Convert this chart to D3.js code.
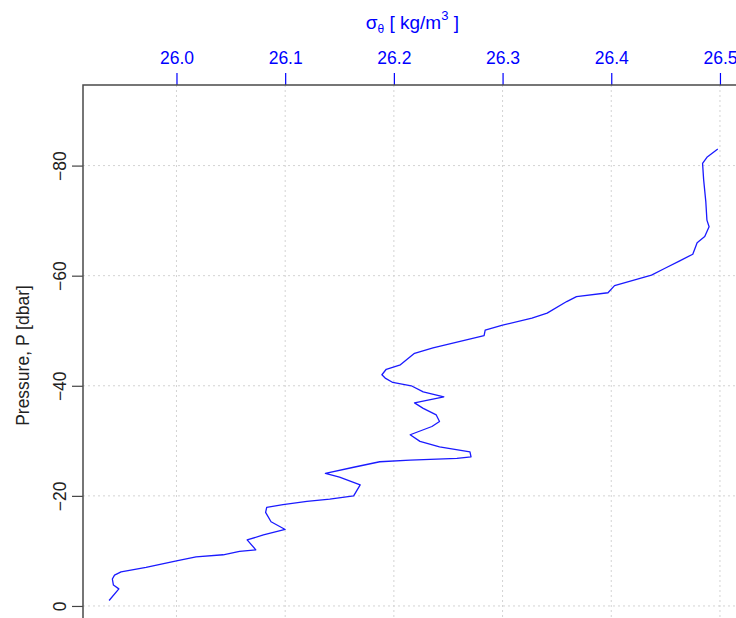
<!DOCTYPE html>
<html>
<head>
<meta charset="utf-8">
<script src="https://cdn.jsdelivr.net/npm/d3@7"></script>
<style>
	body { margin: 0; background: #fff; }
	svg { font-family: "Liberation Sans", Arial, sans-serif; }
</style>
</head>
<body>
<svg id="chart" width="736" height="618"></svg>
<script>
// profile, bottom to top
const pressure = [1.0, 3.1, 3.8, 4.9, 5.6, 6.2, 7.0, 8.2, 8.9, 9.3, 9.9, 10.2, 12.0, 12.9, 13.9, 15.3, 17.0, 17.9, 18.4, 19.0, 19.4, 20.0, 22.0, 23.4, 24.1, 25.2, 26.2, 26.5, 26.8, 27.1, 28.0, 28.9, 29.9, 31.1, 32.6, 33.5, 34.7, 35.9, 36.9, 38.0, 38.9, 40.0, 40.6, 41.4, 42.0, 43.0, 43.8, 45.9, 46.9, 49.1, 50.1, 51.0, 52.3, 53.2, 55.3, 56.2, 56.9, 58.2, 60.1, 61.3, 62.7, 63.9, 66.0, 67.1, 68.9, 70.1, 73.4, 77.4, 80.4, 81.5, 83.0]
const sigmaTheta = [25.938, 25.947, 25.942, 25.941, 25.943, 25.949, 25.972, 26.000, 26.018, 26.043, 26.058, 26.073, 26.065, 26.080, 26.100, 26.087, 26.082, 26.083, 26.098, 26.120, 26.141, 26.163, 26.169, 26.150, 26.137, 26.163, 26.187, 26.215, 26.258, 26.271, 26.270, 26.242, 26.224, 26.215, 26.235, 26.242, 26.239, 26.227, 26.219, 26.246, 26.227, 26.216, 26.199, 26.192, 26.189, 26.193, 26.206, 26.219, 26.236, 26.283, 26.284, 26.300, 26.327, 26.341, 26.359, 26.368, 26.397, 26.403, 26.437, 26.449, 26.463, 26.475, 26.479, 26.486, 26.490, 26.488, 26.487, 26.485, 26.484, 26.488, 26.498]

const xTicks = [26.0, 26.1, 26.2, 26.3, 26.4, 26.5]
const yTicks = [-80, -60, -40, -20, 0]

const xLim = [25.914, 26.520]
const yLim = [-94.64, 3.64]

const margin = { left: 83, top: 85 }
const plotW = 658.7, plotH = 541

const svg = d3.select("#chart")
const g = svg.append("g").attr("transform", `translate(${margin.left},${margin.top})`)

const x = d3.scaleLinear().domain(xLim).range([0, plotW])
const y = d3.scaleLinear().domain(yLim).range([0, plotH])

// grid
g.append("g").selectAll("line").data(xTicks).join("line")
	.attr("x1", d => x(d)).attr("x2", d => x(d))
	.attr("y1", 0).attr("y2", plotH)
	.attr("stroke", "#d3d3d3").attr("stroke-dasharray", "2,3")
g.append("g").selectAll("line").data(yTicks).join("line")
	.attr("x1", 0).attr("x2", plotW)
	.attr("y1", d => y(d)).attr("y2", d => y(d))
	.attr("stroke", "#d3d3d3").attr("stroke-dasharray", "2,3")

// top axis (blue)
const topAxis = g.append("g")
	.call(d3.axisTop(x).tickValues(xTicks).tickFormat(d3.format(".1f")).tickSize(12).tickSizeOuter(0).tickPadding(9))
topAxis.select(".domain").remove()
topAxis.selectAll("line").attr("stroke", "blue").attr("stroke-width", 1.2)
topAxis.selectAll("text").attr("fill", "blue").attr("font-size", 17.5)
	.attr("font-family", "Liberation Sans, Arial, sans-serif")

// left axis, labels parallel to axis
const leftAxis = g.append("g")
	.call(d3.axisLeft(y).tickValues(yTicks).tickFormat(d3.format("d")).tickSize(11).tickSizeOuter(0))
leftAxis.select(".domain").remove()
leftAxis.selectAll("line").attr("stroke", "#444").attr("stroke-width", 1.2)
leftAxis.selectAll("text")
	.attr("fill", "#222").attr("font-size", 17.5)
	.attr("font-family", "Liberation Sans, Arial, sans-serif")
	.attr("x", null)
	.attr("text-anchor", "middle")
	.attr("transform", "translate(-23,0) rotate(-90)")
	.attr("dy", "0.35em")

// profile line
const line = d3.line()
	.x((d, i) => x(sigmaTheta[i]))
	.y(d => y(-d))

g.append("path")
	.datum(pressure)
	.attr("d", line)
	.attr("fill", "none")
	.attr("stroke", "#1a1aff")
	.attr("stroke-width", 1.3)
	.attr("stroke-linejoin", "round")

// box
g.append("rect")
	.attr("x", 0).attr("y", 0).attr("width", plotW).attr("height", plotH)
	.attr("fill", "none").attr("stroke", "#4a4a4a").attr("stroke-width", 1.5)

// titles
const title = svg.append("text")
	.attr("x", margin.left + plotW / 2).attr("y", 29)
	.attr("text-anchor", "middle").attr("fill", "blue").attr("font-size", 19)
title.append("tspan").text("σ")
title.append("tspan").text("θ").attr("font-size", 12).attr("dy", 4)
title.append("tspan").text(" [ kg/m").attr("dy", -4)
title.append("tspan").text("3").attr("font-size", 13).attr("dy", -9)
title.append("tspan").text(" ]").attr("dy", 9)

svg.append("text")
	.attr("transform", `translate(29,${margin.top + plotH / 2}) rotate(-90)`)
	.attr("text-anchor", "middle").attr("fill", "#222").attr("font-size", 17.5)
	.text("Pressure, P [dbar]")
</script>
</body>
</html>
